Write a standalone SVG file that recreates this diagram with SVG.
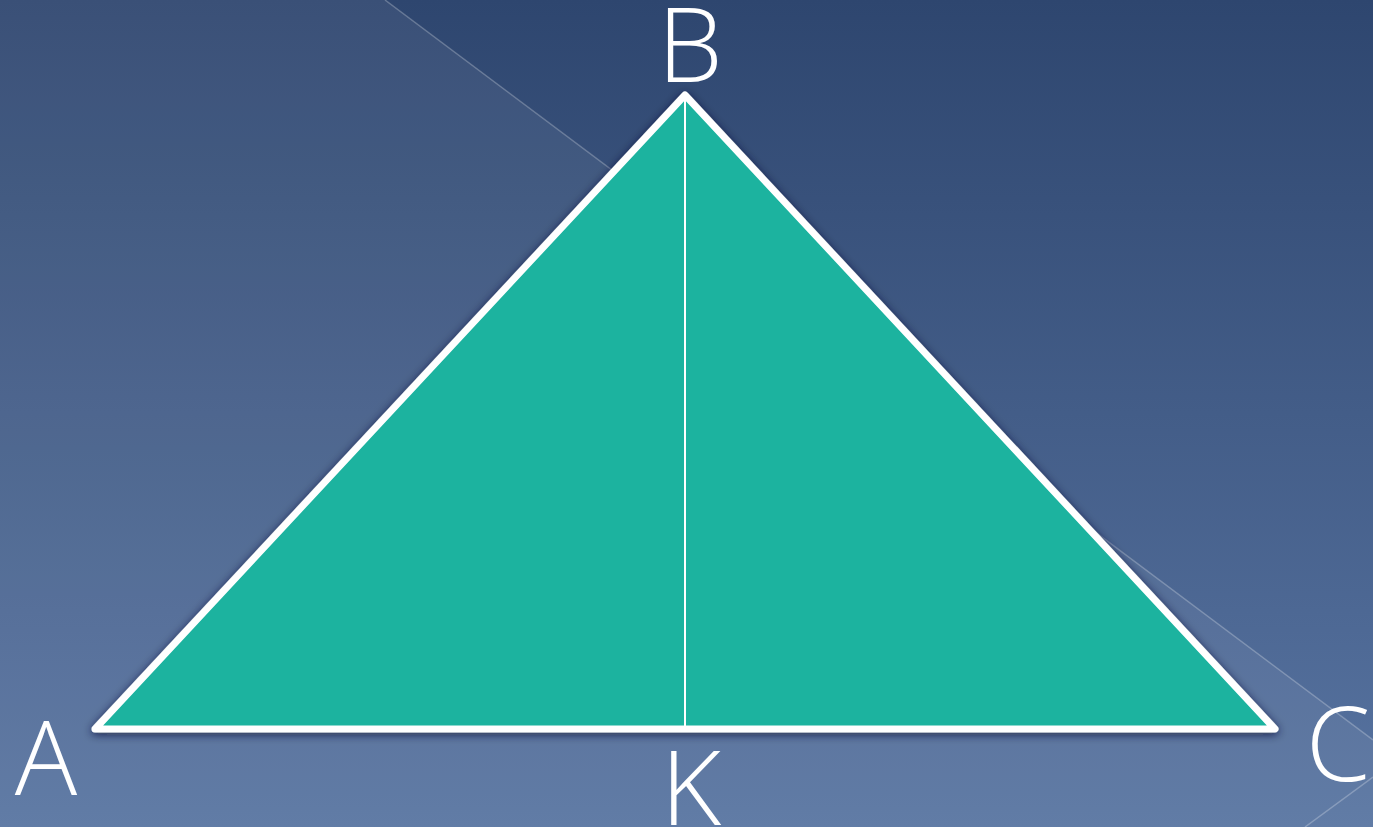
<svg xmlns="http://www.w3.org/2000/svg" width="1373" height="827" viewBox="0 0 1373 827">
  <defs>
    <linearGradient id="bg" x1="0" y1="0" x2="0" y2="1">
      <stop offset="0" stop-color="#2e466f"/>
      <stop offset="1" stop-color="#5874a1"/>
    </linearGradient>
    <filter id="sh" x="-10%" y="-10%" width="120%" height="120%">
      <feDropShadow dx="0" dy="2" stdDeviation="5" flood-color="#0a1530" flood-opacity="0.75"/>
    </filter>
    <style>
      .lbl { font-family: "Open Sans", "Liberation Sans", sans-serif; font-weight: 300; font-size: 104px; fill: #ffffff; text-anchor: middle; }
      .faint { stroke: #ffffff; stroke-opacity: 0.25; stroke-width: 1.5; fill: none; }
    </style>
  </defs>
  <g id="background">
    <rect x="0" y="0" width="1373" height="827" fill="url(#bg)"/>
    <polygon points="0,0 385,0 1373,740 1373,827 0,827" fill="#ffffff" fill-opacity="0.06"/>
    <line class="faint" x1="385" y1="0" x2="1373" y2="740"/>
    <line class="faint" x1="1305" y1="827" x2="1373" y2="777"/>
  </g>
  <g id="triangle" filter="url(#sh)">
    <polygon points="95,729 685,95 1275,729" fill="#1ab39f" stroke="#ffffff" stroke-width="7" stroke-linejoin="round"/>
  </g>
  <g id="connectors">
    <line id="altitude-BK" x1="685" y1="97" x2="685" y2="727" stroke="#ffffff" stroke-width="2"/>
  </g>
  <g id="label-B"><text class="lbl" x="690" y="82">B</text></g>
  <g id="label-A"><text class="lbl" x="46" y="795">A</text></g>
  <g id="label-K"><text class="lbl" x="691" y="825">K</text></g>
  <g id="label-C"><text class="lbl" x="1338" y="781">C</text></g>
</svg>
